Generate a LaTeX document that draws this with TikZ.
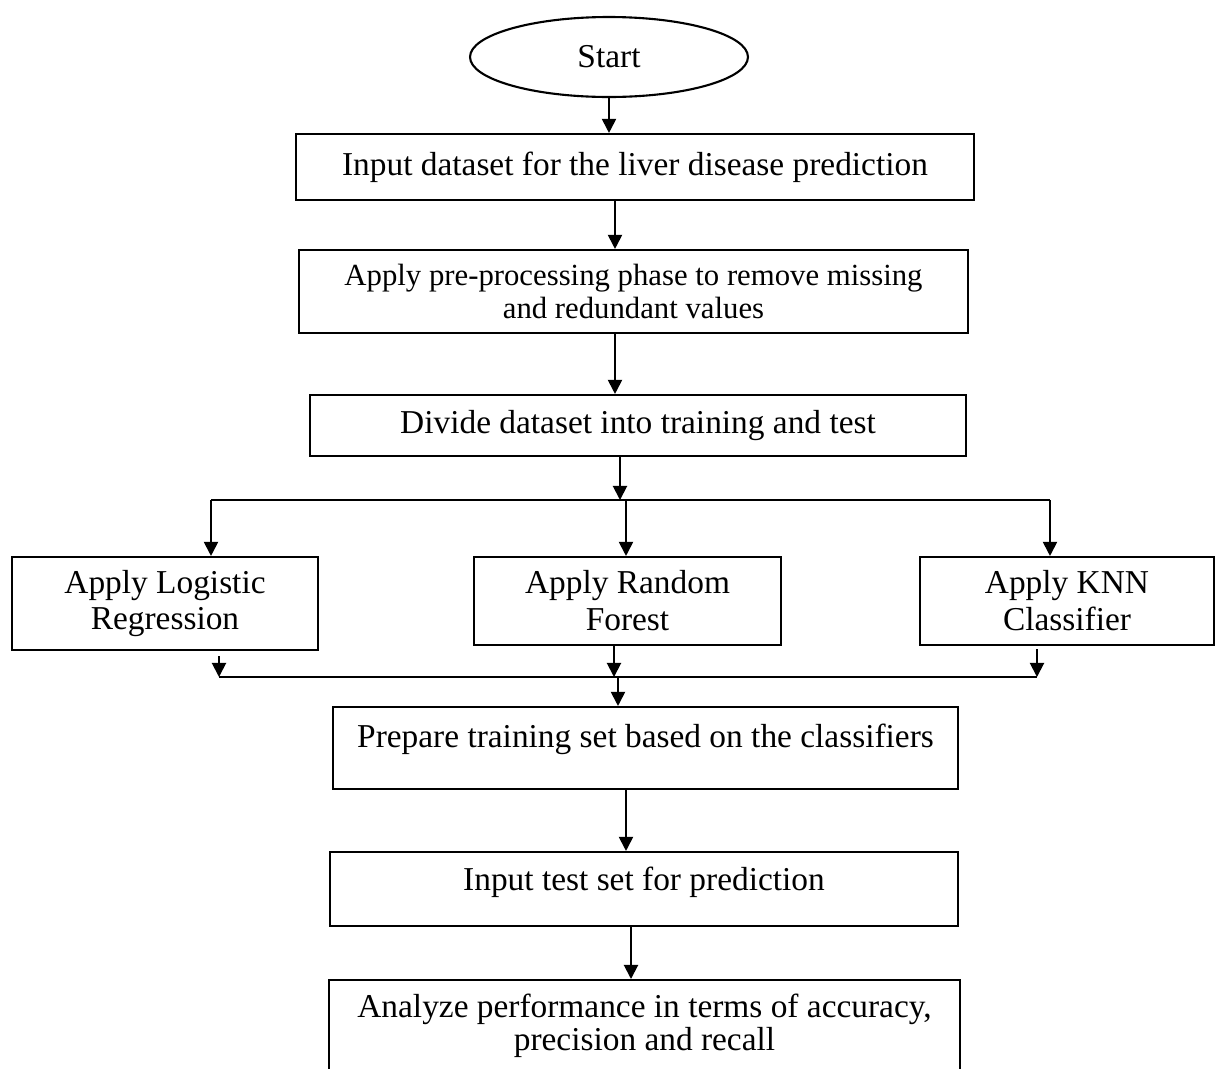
\documentclass[tikz,border=0pt]{standalone}
\usepackage{fontspec}
\setmainfont{Liberation Serif}
\usetikzlibrary{arrows.meta}
\usetikzlibrary{shapes.geometric}
\usetikzlibrary{positioning}
\usetikzlibrary{calc}

\tikzset{
  stepbox/.style={draw, line width=1.2pt, inner sep=0pt, align=center,
    font=\fontsize{19}{19}\selectfont},
  arr/.style={-{Triangle[length=8pt,width=8pt]}, line width=1.1pt},
  plain/.style={line width=1.1pt}
}

\begin{document}
\begin{tikzpicture}[x=0.02cm,y=-0.02cm]
			\useasboundingbox (0,0) rectangle (1215,1069);
			\clip (0,0) rectangle (1215,1069);
			% start and first steps
			\node[stepbox, ellipse, minimum width=5.56cm, minimum height=1.6cm] (start) at (609,57) {Start};
			\node[stepbox, minimum width=13.56cm, minimum height=1.32cm] (in) at (635,167) {Input dataset for the liver disease prediction};
			\node[stepbox, minimum width=13.38cm, minimum height=1.66cm, font=\fontsize{17.5}{19}\selectfont] (pre) at (633.5,291.5) {Apply pre-processing phase to remove missing\\and redundant values};
			\node[stepbox, minimum width=13.12cm, minimum height=1.22cm] (div) at (638,425.5) {Divide dataset into training and test};
			% classifiers
			\node[stepbox, minimum width=6.12cm, minimum height=1.86cm] (lr) at (165,603.5) {Apply Logistic\\[2pt]Regression};
			\node[stepbox, minimum width=6.14cm, minimum height=1.76cm] (rf) at (627.5,601) {Apply Random\\[2pt]Forest};
			\node[stepbox, minimum width=5.88cm, minimum height=1.76cm] (knn) at (1067,601) {Apply KNN\\[2pt]Classifier};
			% last steps
			\node[stepbox, minimum width=12.5cm, minimum height=1.64cm, text depth=0.5cm] (prep) at (645.5,748) {Prepare training set based on the classifiers};
			\node[stepbox, minimum width=12.56cm, minimum height=1.48cm, text depth=0.42cm] (test) at (644,889) {Input test set for prediction};
			\node[stepbox, anchor=north, minimum width=12.62cm, minimum height=2.2cm, text depth=0.5cm] (ana) at (644.5,979) {Analyze performance in terms of accuracy,\\precision and recall};

			% junction points
			\coordinate (split) at (620,500);
			\coordinate (bl) at (211,500);
			\coordinate (bm) at (626,500);
			\coordinate (br) at (1050,500);
			\coordinate (ml) at (219,677);
			\coordinate (mm) at (614,677);
			\coordinate (mr) at (1037,677);
			\coordinate (join) at (618,677);

			\draw[arr] (start.south) -- (start.south |- in.north);
			\draw[arr] ($(in.south)+(-20,0)$) -- ($(in.south |- pre.north)+(-20,0)$);
			\draw[arr] ($(pre.south)+(-18.5,0)$) -- ($(pre.south |- div.north)+(-18.5,0)$);
			\draw[arr] ($(div.south)+(-18,0)$) -- (split);
			% branch out
			\draw[plain] (bl) -- (br);
			\draw[arr] (bl) -- (bl |- lr.north);
			\draw[arr] (bm) -- (bm |- rf.north);
			\draw[arr] (br) -- (br |- knn.north);
			% merge
			\draw[arr] ($(ml |- lr.south)+(0,5)$) -- (ml);
			\draw[arr] (mm |- rf.south) -- (mm);
			\draw[arr] ($(mr |- knn.south)+(0,3)$) -- (mr);
			\draw[plain] (ml) -- (mr);
			\draw[arr] (join) -- (join |- prep.north);
			\draw[arr] ($(prep.south)+(-19.5,0)$) -- ($(prep.south |- test.north)+(-19.5,0)$);
			\draw[arr] ($(test.south)+(-13,0)$) -- ($(test.south |- ana.north)+(-13,0)$);
\end{tikzpicture}
\end{document}
